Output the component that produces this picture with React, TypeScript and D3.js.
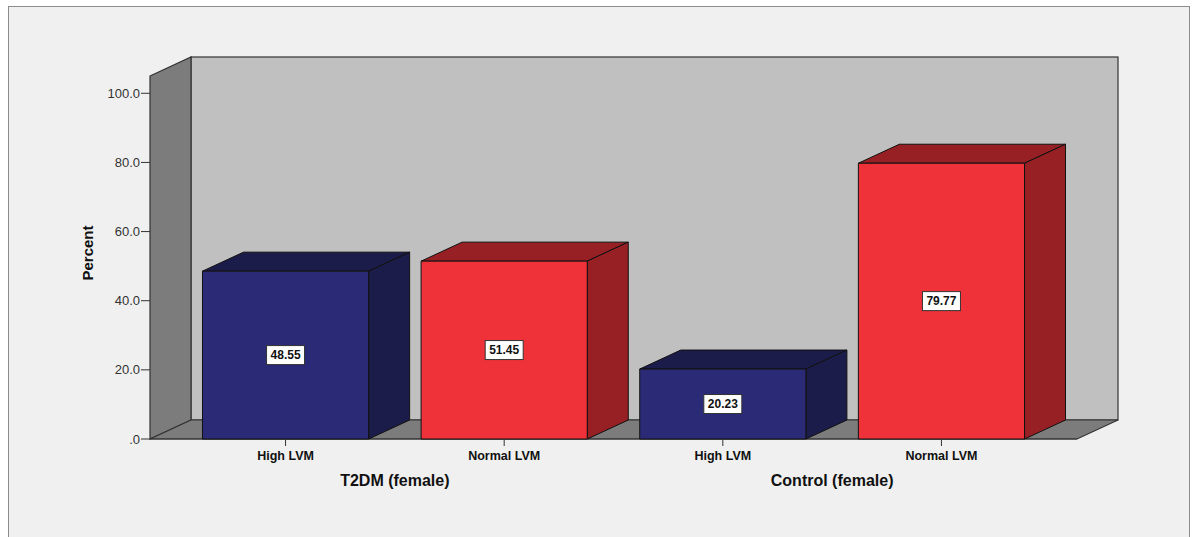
import React from "react";
import * as d3 from "d3";

const groups = ["T2DM (female)", "Control (female)"];
const categories = ["High LVM", "Normal LVM", "High LVM", "Normal LVM"];
const groupOfBar = [0, 0, 1, 1];
const values = [48.55, 51.45, 20.23, 79.77];
const barKinds = ["high", "normal", "high", "normal"];
const yTicks = [0, 20, 40, 60, 80, 100];

const W = 1194;
const H = 537;
const plotLeft = 150;
const plotRight = 1077;
const plotBottom = 439;
const plotTop = 76;
const DX = 41;
const DY = 19;

const colors: Record<string, { front: string; side: string }> = {
  high: { front: "#2a2a76", side: "#1c1c4a" },
  normal: { front: "#ef323a", side: "#962024" },
};

export default function App() {
  const keys = values.map((_, i) => String(i));
  const x = d3
    .scaleBand<string>()
    .domain(keys)
    .range([plotLeft, plotRight])
    .paddingInner(0.24)
    .paddingOuter(0.24);
  const y = d3.scaleLinear().domain([0, 105]).range([plotBottom, plotTop]);
  const bw = x.bandwidth();
  const y0 = y(0);
  const yT = y(105);

  const pts = (arr: [number, number][]) => arr.map((p) => p.join(",")).join(" ");
  const font = "'Liberation Sans', Arial, sans-serif";

  return (
    <svg
      width={W}
      height={H}
      style={{ position: "absolute", left: 0, top: 0, display: "block" }}
      fontFamily={font}
    >
      <rect x={0} y={0} width={W} height={H} fill="#ffffff" />
      <rect x={8.5} y={6.5} width={1181} height={560} fill="#f0f0f0" stroke="#8c8c8c" strokeWidth={1} />

      {/* back wall */}
      <rect
        x={plotLeft + DX}
        y={yT - DY}
        width={plotRight - plotLeft}
        height={y0 - yT}
        fill="#c0c0c0"
        stroke="#333"
        strokeWidth={1.2}
      />
      {/* left wall */}
      <polygon
        points={pts([
          [plotLeft, yT],
          [plotLeft + DX, yT - DY],
          [plotLeft + DX, y0 - DY],
          [plotLeft, y0],
        ])}
        fill="#7c7c7c"
        stroke="#333"
        strokeWidth={1.2}
      />
      {/* floor */}
      <polygon
        points={pts([
          [plotLeft, y0],
          [plotLeft + DX, y0 - DY],
          [plotRight + DX, y0 - DY],
          [plotRight, y0],
        ])}
        fill="#7c7c7c"
        stroke="#333"
        strokeWidth={1.2}
      />

      {/* y ticks */}
      {yTicks.map((t) => (
        <g key={t}>
          <line x1={141} x2={plotLeft} y1={y(t)} y2={y(t)} stroke="#333" strokeWidth={1} />
          <text x={140} y={y(t)} dy="0.35em" textAnchor="end" fontSize={13} fill="#333">
            {t === 0 ? ".0" : t.toFixed(1)}
          </text>
        </g>
      ))}
      <line x1={plotLeft} x2={plotRight} y1={y0} y2={y0} stroke="#333" strokeWidth={1.2} />

      <text
        transform={`translate(93,253) rotate(-90)`}
        textAnchor="middle"
        fontSize={15}
        fontWeight="bold"
        fill="#111"
      >
        Percent
      </text>

      {/* bars */}
      {values.map((v, i) => {
        const bx = x(keys[i]) as number;
        const yv = y(v);
        const c = colors[barKinds[i]];
        return (
          <g key={i} stroke="#111" strokeWidth={1} strokeLinejoin="round">
            <polygon
              points={pts([
                [bx, yv],
                [bx + DX, yv - DY],
                [bx + bw + DX, yv - DY],
                [bx + bw, yv],
              ])}
              fill={c.side}
            />
            <polygon
              points={pts([
                [bx + bw, yv],
                [bx + bw + DX, yv - DY],
                [bx + bw + DX, y0 - DY],
                [bx + bw, y0],
              ])}
              fill={c.side}
            />
            <rect x={bx} y={yv} width={bw} height={y0 - yv} fill={c.front} />
          </g>
        );
      })}

      {/* value labels */}
      {values.map((v, i) => {
        const cx = (x(keys[i]) as number) + bw / 2;
        const cy = (y(v) + y0) / 2;
        return (
          <g key={"l" + i}>
            <rect x={cx - 19} y={cy - 9.5} width={38} height={19} fill="#fff" stroke="#333" strokeWidth={1} />
            <text x={cx} y={cy} dy="0.36em" textAnchor="middle" fontSize={12} fontWeight="bold" fill="#111">
              {v.toFixed(2)}
            </text>
          </g>
        );
      })}

      {/* category ticks and labels */}
      {categories.map((c, i) => {
        const cx = (x(keys[i]) as number) + bw / 2;
        return (
          <g key={"c" + i}>
            <line x1={cx} x2={cx} y1={y0} y2={y0 + 7} stroke="#333" strokeWidth={1} />
            <text x={cx} y={460} textAnchor="middle" fontSize={12.5} fontWeight="bold" fill="#111">
              {c}
            </text>
          </g>
        );
      })}

      {/* group labels */}
      {groups.map((g, gi) => {
        const idx = groupOfBar.map((gg, i) => (gg === gi ? i : -1)).filter((i) => i >= 0);
        const centers = idx.map((i) => (x(keys[i]) as number) + bw / 2);
        const cx = d3.mean(centers) as number;
        return (
          <text key={g} x={cx} y={486} textAnchor="middle" fontSize={16} fontWeight="bold" fill="#111">
            {g}
          </text>
        );
      })}
    </svg>
  );
}
